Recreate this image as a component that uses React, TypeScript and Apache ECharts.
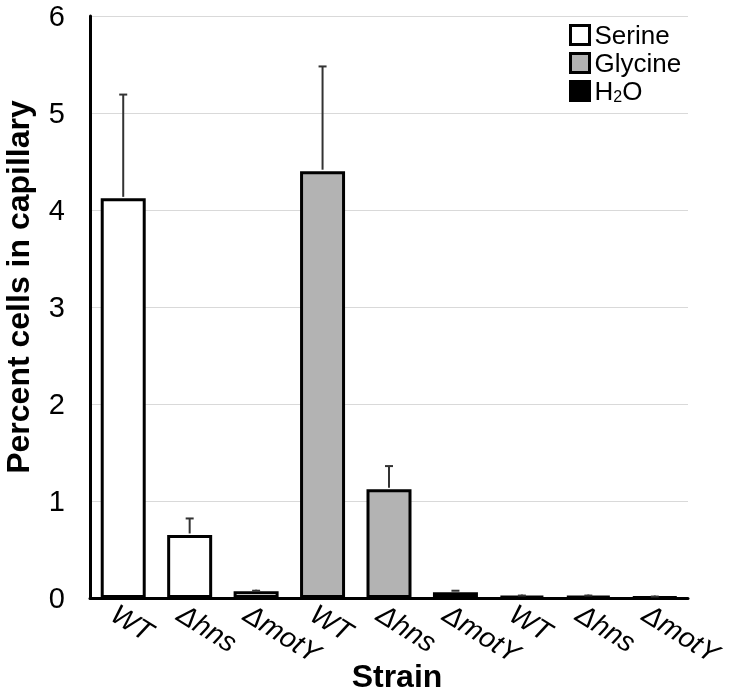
import React, { useEffect, useRef } from "react";
import * as echarts from "echarts";

const categories = ["WT", "Δhns", "ΔmotY", "WT", "Δhns", "ΔmotY", "WT", "Δhns", "ΔmotY"];
const serine = [4.12, 0.65, 0.07, null, null, null, null, null, null];
const glycine = [null, null, null, 4.4, 1.12, 0.06, null, null, null];
const h2o = [null, null, null, null, null, null, 0.02, 0.02, 0.01];
const errorTop = [5.19, 0.82, 0.075, 5.48, 1.36, 0.075, 0.025, 0.025, 0.015];
const yTicks = { min: 0, max: 6, interval: 1 };
const seriesNames = ["Serine", "Glycine", "H2O"];

const FONT = "'Liberation Sans', Arial, sans-serif";

export default function App() {
  const ref = useRef<HTMLDivElement>(null);
  useEffect(() => {
    if (!ref.current) return;
    const chart = echarts.init(ref.current, null, { renderer: "svg" });
    const barValues = categories.map((_, i) => serine[i] ?? glycine[i] ?? h2o[i] ?? 0);
    const errData = categories.map((_, i) => [i, barValues[i], errorTop[i]]);
    const border = { borderColor: "#000", borderWidth: 3 };
    chart.setOption({
      animation: false,
      textStyle: { fontFamily: FONT },
      grid: { left: 90, right: 45, top: 16, bottom: 97, containLabel: false, outerBoundsMode: "none" },
      legend: {
        data: seriesNames,
        orient: "vertical",
        left: 569,
        top: 22,
        padding: 0,
        icon: "rect",
        itemWidth: 19,
        itemHeight: 19,
        itemGap: 2,
        itemStyle: { borderWidth: 3, borderColor: "#000" },
        textStyle: {
          fontFamily: FONT,
          fontSize: 26,
          color: "#000",
          rich: {
            n: { fontSize: 26, lineHeight: 26, color: "#000", fontFamily: FONT },
            s: { fontSize: 16, lineHeight: 8, verticalAlign: "bottom", color: "#000", fontFamily: FONT },
          },
        },
        formatter: (name: string) => (name === "H2O" ? "{n|H}{s|2}{n|O}" : "{n|" + name + "}"),
      },
      xAxis: {
        type: "category",
        data: categories,
        axisLine: { lineStyle: { color: "#000", width: 3 } },
        axisTick: { show: false },
        axisLabel: {
          interval: 0,
          rotate: -32,
          fontSize: 28,
          fontStyle: "italic",
          color: "#000",
          fontFamily: FONT,
          align: "left",
          verticalAlign: "top",
          padding: [4, 0, 0, 0],
          margin: -2,
        },
        name: "Strain",
        nameLocation: "middle",
        nameGap: 62,
        nameMoveOverlap: false,
        nameTextStyle: { fontSize: 32, fontWeight: "bold", color: "#000", fontFamily: FONT, padding: [0, 0, 0, 16] },
      },
      yAxis: {
        type: "value",
        min: yTicks.min,
        max: yTicks.max,
        interval: yTicks.interval,
        axisLine: { show: true, lineStyle: { color: "#000", width: 3 } },
        axisTick: { show: false },
        splitLine: { lineStyle: { color: "#d9d9d9", width: 1 } },
        axisLabel: { fontSize: 29, color: "#000", margin: 25, fontFamily: FONT },
        name: "Percent cells in capillary",
        nameLocation: "middle",
        nameGap: 56,
        nameMoveOverlap: false,
        nameTextStyle: { fontSize: 32, fontWeight: "bold", color: "#000", fontFamily: FONT, padding: [0, 0, 0, 40] },
      },
      series: [
        { name: "Serine", type: "bar", stack: "s", barWidth: 45, data: serine, itemStyle: { color: "#ffffff", ...border } },
        { name: "Glycine", type: "bar", stack: "s", barWidth: 45, data: glycine, itemStyle: { color: "#b3b3b3", ...border } },
        { name: "H2O", type: "bar", stack: "s", barWidth: 45, data: h2o, itemStyle: { color: "#000000", ...border } },
        {
          type: "custom",
          z: 5,
          data: errData,
          renderItem: (params: any, api: any) => {
            const x = api.value(0);
            const p0 = api.coord([x, api.value(1)]);
            const p1 = api.coord([x, api.value(2)]);
            const style = { stroke: "#333", lineWidth: 2 };
            return {
              type: "group",
              children: [
                { type: "line", shape: { x1: p0[0], y1: p0[1] - 1.5, x2: p1[0], y2: p1[1] }, style },
                { type: "line", shape: { x1: p1[0] - 4, y1: p1[1], x2: p1[0] + 4, y2: p1[1] }, style },
              ],
            };
          },
        },
      ],
    });
    return () => chart.dispose();
  }, []);
  return <div ref={ref} style={{ position: "fixed", left: 0, top: 0, width: 733, height: 695 }} />;
}
